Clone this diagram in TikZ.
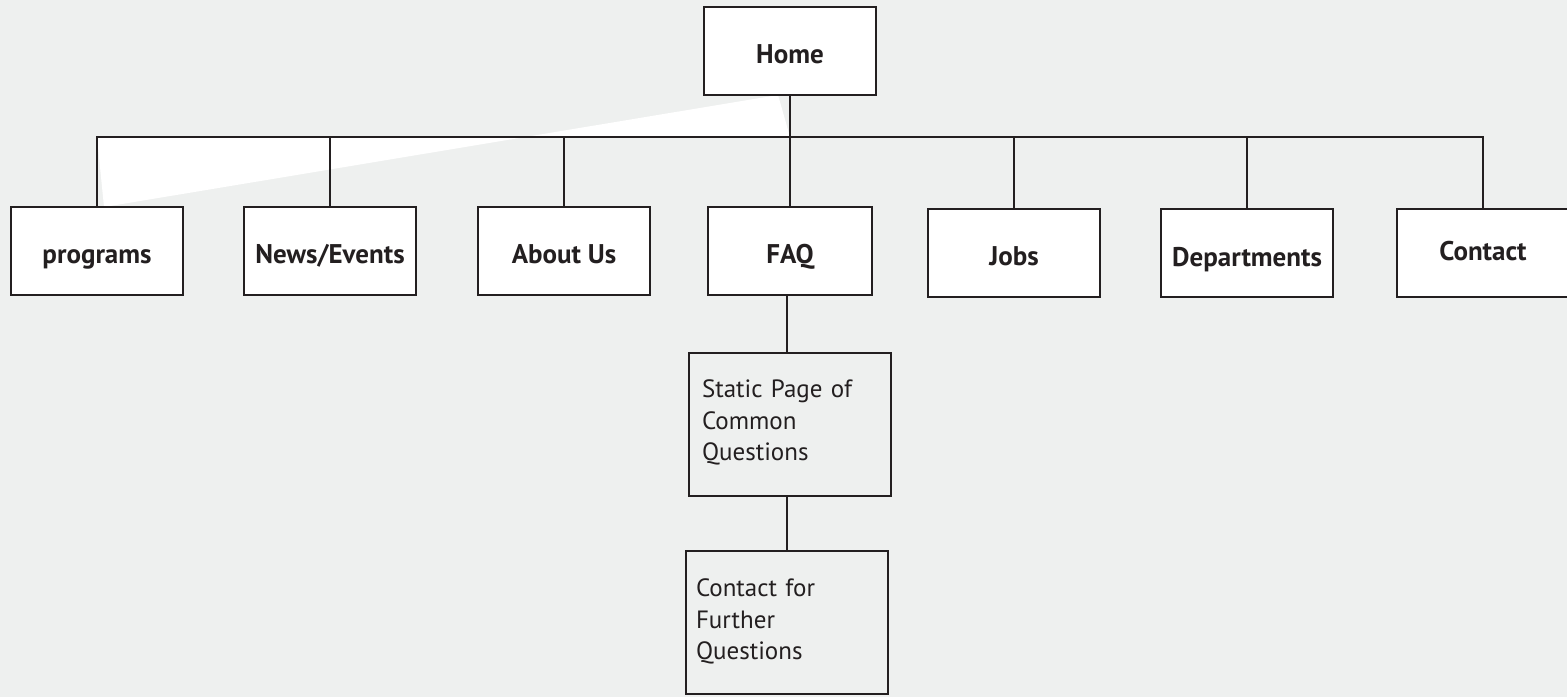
\documentclass[tikz,border=0pt]{standalone}
\usepackage{fontspec}
\setmainfont{PT Sans}
\usepackage{xcolor}
\definecolor{paper}{RGB}{238,240,239}
\definecolor{ink}{RGB}{35,31,32}

\begin{document}
\begin{tikzpicture}[x=0.5pt, y=-0.5pt]
	\tikzstyle{every node} = [rectangle, draw=ink, text=ink, line width=1pt, inner sep=0pt]
	\tikzstyle{page} = [fill=white, minimum width=86pt, minimum height=44pt, text height=13pt, text depth=0.6pt, font=\fontsize{13.5}{15}\selectfont\bfseries]
	\tikzstyle{sub} = [minimum width=101pt, minimum height=71.5pt, text width=88pt, align=left, font=\fontsize{12.5}{15.75}\selectfont]
	% background and page size
	\fill[paper] (0,0) rectangle (1567,697);
	\useasboundingbox (0,0) rectangle (1567,697);
	%white wedge behind the bus
	\fill[white] (97,137) -- (104,207) -- (778,95) -- (790,137) -- cycle;
	\node[page] (home) at (790,51) {Home};
	\node[page] (programs) at (97,251) {programs};
	\node[page] (news) at (330,251) {News/Events};
	\node[page] (about) at (564,251) {About Us};
	\node[page, minimum width=82pt] (faq) at (790,251) {FAQ};
	\node[page] (jobs) at (1014,253) {Jobs};
	\node[page, text height=14.5pt] (departments) at (1247,253) {Departments};
	\node[page, text height=8pt] (contact) at (1483,253) {Contact};
	\node[sub] (static) at (790,424.5) {Static Page of\\Common\\Questions\\[-11.5pt]\mbox{}};
	\node[sub, text width=91pt] (further) at (787,622.5) {Contact for\\Further\\Questions\\[-12.5pt]\mbox{}};
	\coordinate (bus) at (790,137);
	\draw[ink, line width=1pt]
	(home) -- (bus)
	(bus) -| (programs)
	(bus) -| (news)
	(bus) -| (about)
	(bus) -- (faq)
	(bus) -| (jobs)
	(bus) -| (departments)
	(bus) -| (contact)
	(faq.south -| further) -- (static.north -| further)
	(static.south -| further) -- (further)
	;
\end{tikzpicture}
\end{document}
